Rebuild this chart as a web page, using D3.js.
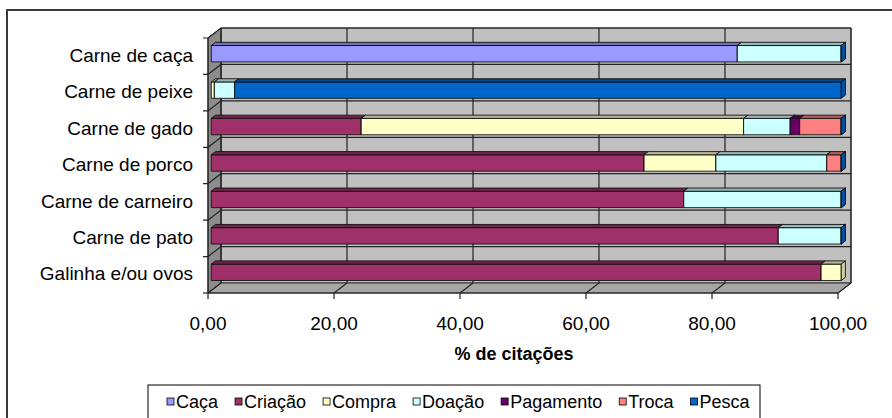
<!DOCTYPE html>
<html>
<head>
<meta charset="utf-8">
<script src="https://cdn.jsdelivr.net/npm/d3@7"></script>
<style>
  html, body { margin: 0; padding: 0; background: #ffffff; }
  svg { display: block; }
  text { font-family: "Liberation Sans", Arial, sans-serif; fill: #000; }
</style>
</head>
<body>
<svg id="chart" width="892" height="418"></svg>
<script>
// Origem dos alimentos por tipo de carne (% de citações)
const categories = ["Carne de caça", "Carne de peixe", "Carne de gado", "Carne de porco",
                    "Carne de carneiro", "Carne de pato", "Galinha e/ou ovos"];
const seriesNames = ["Caça", "Criação", "Compra", "Doação", "Pagamento", "Troca", "Pesca"];
const seriesColors = ["#9999FF", "#A0306A", "#FFFFC8", "#CCFFFF", "#660066", "#FF8080", "#0066CC"];

// one array per series, aligned with categories (null = not cited)
const caca      = [83.5, null, null, null, null, null, null];
const criacao   = [null, null, 23.8, 68.7, 75.0, 90.0, 96.8];
const compra    = [null, 0.5, 60.7, 11.4, null, null, 3.2];
const doacao    = [16.5, 3.2, 7.4, 17.6, 25.0, 10.0, null];
const pagamento = [null, null, 1.5, null, null, null, null];
const troca     = [null, null, 6.6, 2.3, null, null, null];
const pesca     = [0, 96.3, 0, 0, 0, 0, null];

const xTicks = [0, 20, 40, 60, 80, 100];
const xTickLabels = ["0,00", "20,00", "40,00", "60,00", "80,00", "100,00"];
const xTitle = "% de citações";

const seriesValues = [caca, criacao, compra, doacao, pagamento, troca, pesca];

const svg = d3.select("#chart");

// chart frame
svg.append("rect")
  .attr("x", 7).attr("y", 10).attr("width", 900).attr("height", 430)
  .attr("fill", "#fff").attr("stroke", "#3a3a3a").attr("stroke-width", 2);

// front plane scales; depth goes up and to the right
const x = d3.scaleLinear().domain([0, 100]).range([208, 838]);
const y = d3.scaleBand().domain(categories).range([38, 293])
  .paddingInner(0.55).paddingOuter(0.275);
const DX = 13, DY = 10;
const yTop = 38, yBot = 293;
const P = (px, py, z) => [px + z * DX, py - z * DY];
const poly = pts => pts.map(p => p.join(",")).join(" ");

const wallStroke = "#333";
// back wall
svg.append("polygon")
  .attr("points", poly([P(x(0), yTop, 1), P(x(100), yTop, 1), P(x(100), yBot, 1), P(x(0), yBot, 1)]))
  .attr("fill", "#C0C0C0").attr("stroke", wallStroke).attr("stroke-width", 1);
// side wall
svg.append("polygon")
  .attr("points", poly([[x(0), yTop], P(x(0), yTop, 1), P(x(0), yBot, 1), [x(0), yBot]]))
  .attr("fill", "#8c8c8c").attr("stroke", wallStroke).attr("stroke-width", 1);
// floor
svg.append("polygon")
  .attr("points", poly([[x(0), yBot], P(x(0), yBot, 1), P(x(100), yBot, 1), [x(100), yBot]]))
  .attr("fill", "#a6a6a6").attr("stroke", wallStroke).attr("stroke-width", 1);

// category gridlines: across the side wall and the back wall
const boundaries = d3.range(categories.length + 1).map(i => yTop + i * y.step());
const grid = svg.append("g").attr("fill", "none").attr("stroke", "#222").attr("stroke-width", 1.2);
boundaries.slice(0, -1).forEach(b => {
  grid.append("polyline")
    .attr("points", poly([[x(0) - 5, b], [x(0), b], P(x(0), b, 1), P(x(100), b, 1)]));
});
grid.append("line").attr("x1", x(0) - 5).attr("x2", x(0)).attr("y1", yBot).attr("y2", yBot);

// value gridlines: across the floor and up the back wall
xTicks.forEach(t => {
  grid.append("polyline")
    .attr("points", poly([[x(t), yBot + 6], [x(t), yBot], P(x(t), yBot, 1), P(x(t), yTop, 1)]));
});
// front axis lines
grid.append("line").attr("x1", x(0)).attr("x2", x(0)).attr("y1", yTop).attr("y2", yBot);
grid.append("line").attr("x1", x(0)).attr("x2", x(100)).attr("y1", yBot).attr("y2", yBot);

// stacked 3D bars
const zF = 0.25, zB = 0.57;
const bars = svg.append("g").attr("stroke", "#111").attr("stroke-width", 0.9).attr("stroke-linejoin", "round");
categories.forEach((cat, ci) => {
  let cum = 0;
  const top = y(cat), bot = y(cat) + y.bandwidth();
  seriesValues.forEach((vals, si) => {
    const v = vals[ci];
    if (v === null) return;
    const x0 = x(cum), x1 = x(cum + v);
    cum += v;
    const col = d3.color(seriesColors[si]);
    const g = bars.append("g");
    // front face
    g.append("polygon")
      .attr("points", poly([P(x0, top, zF), P(x1, top, zF), P(x1, bot, zF), P(x0, bot, zF)]))
      .attr("fill", col.formatHex());
    // top face
    g.append("polygon")
      .attr("points", poly([P(x0, top, zF), P(x1, top, zF), P(x1, top, zB), P(x0, top, zB)]))
      .attr("fill", col.darker(0.9).formatHex());
    // end face
    g.append("polygon")
      .attr("points", poly([P(x1, top, zF), P(x1, top, zB), P(x1, bot, zB), P(x1, bot, zF)]))
      .attr("fill", col.darker(0.6).formatHex());
  });
});

// category labels
svg.append("g").selectAll("text").data(categories).join("text")
  .attr("x", 193)
  .attr("y", d => y(d) + y.bandwidth() / 2 - 1)
  .attr("dy", "0.35em")
  .attr("text-anchor", "end")
  .attr("font-size", 19)
  .text(d => d);

// value tick labels
svg.append("g").selectAll("text").data(xTicks).join("text")
  .attr("x", d => x(d))
  .attr("y", 330)
  .attr("text-anchor", "middle")
  .attr("font-size", 19)
  .text((d, i) => xTickLabels[i]);

// axis title
svg.append("text")
  .attr("x", 514).attr("y", 360)
  .attr("text-anchor", "middle")
  .attr("font-size", 18).attr("font-weight", "bold")
  .text(xTitle);

// legend
const legend = svg.append("g");
legend.append("rect")
  .attr("x", 148).attr("y", 385).attr("width", 612).attr("height", 34)
  .attr("fill", "#fff").attr("stroke", "#000").attr("stroke-width", 1);
let lx = 167;
seriesNames.forEach((name, i) => {
  legend.append("rect")
    .attr("x", lx).attr("y", 398).attr("width", 7).attr("height", 7)
    .attr("fill", seriesColors[i]).attr("stroke", "#000").attr("stroke-width", 0.8);
  const t = legend.append("text")
    .attr("x", lx + 9).attr("y", 408)
    .attr("font-size", 18)
    .text(name);
  lx += 9 + t.node().getComputedTextLength() + 17;
});
</script>
</body>
</html>
